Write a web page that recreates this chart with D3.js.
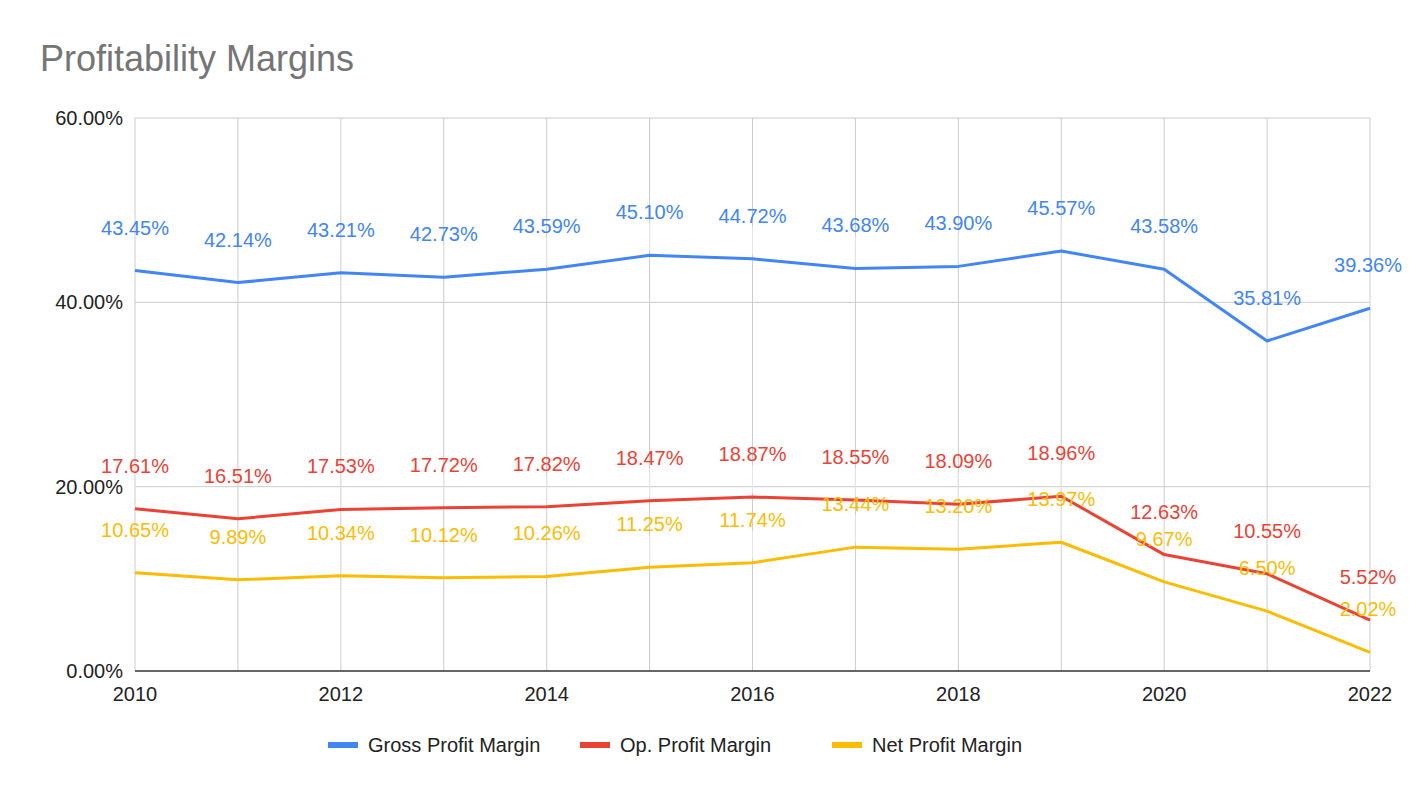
<!DOCTYPE html>
<html>
<head>
<meta charset="utf-8">
<script src="https://cdn.jsdelivr.net/npm/d3@7"></script>
<style>
  body { margin: 0; background: #fff; }
  text { font-family: "Liberation Sans", Arial, sans-serif; }
</style>
</head>
<body>
<svg id="chart" width="1410" height="798"></svg>
<script>
// chart data
var years = [2010, 2011, 2012, 2013, 2014, 2015, 2016, 2017, 2018, 2019, 2020, 2021, 2022];
var gross = [43.45, 42.14, 43.21, 42.73, 43.59, 45.10, 44.72, 43.68, 43.90, 45.57, 43.58, 35.81, 39.36];
var opMargin = [17.61, 16.51, 17.53, 17.72, 17.82, 18.47, 18.87, 18.55, 18.09, 18.96, 12.63, 10.55, 5.52];
var netMargin = [10.65, 9.89, 10.34, 10.12, 10.26, 11.25, 11.74, 13.44, 13.20, 13.97, 9.67, 6.50, 2.02];
var yTicks = [0, 20, 40, 60];
var xTicks = [2010, 2012, 2014, 2016, 2018, 2020, 2022];

var series = [
  { name: 'Gross Profit Margin', values: gross, color: '#4285F4' },
  { name: 'Op. Profit Margin', values: opMargin, color: '#EA4335' },
  { name: 'Net Profit Margin', values: netMargin, color: '#FBBC04' }
];

var svg = d3.select('#chart');
var x = d3.scaleLinear().domain([2010, 2022]).range([135, 1370]);
var y = d3.scaleLinear().domain([0, 60]).range([671, 118]);

// title
svg.append('text').attr('x', 40).attr('y', 71).attr('font-size', 36)
  .attr('fill', '#757575').text('Profitability Margins');

// grid lines, one vertical per year
svg.append('g').selectAll('line').data(years).join('line')
  .attr('x1', d => x(d)).attr('x2', d => x(d))
  .attr('y1', y(60)).attr('y2', y(0))
  .attr('stroke', '#cccccc').attr('stroke-width', 1);
svg.append('g').selectAll('line').data(yTicks).join('line')
  .attr('x1', x(2010)).attr('x2', x(2022))
  .attr('y1', d => y(d)).attr('y2', d => y(d))
  .attr('stroke', d => d === 0 ? '#333' : '#cccccc').attr('stroke-width', d => d === 0 ? 1.5 : 1);

// axis labels
svg.append('g').selectAll('text').data(yTicks).join('text')
  .attr('x', 123).attr('y', d => y(d) + 7).attr('text-anchor', 'end')
  .attr('font-size', 20).attr('fill', '#222')
  .text(d => d.toFixed(2) + '%');
svg.append('g').selectAll('text').data(xTicks).join('text')
  .attr('x', d => x(d)).attr('y', 701).attr('text-anchor', 'middle')
  .attr('font-size', 20).attr('fill', '#222').text(d => d);

var line = d3.line().x((d, i) => x(years[i])).y(d => y(d));

series.forEach(function (s) {
  // leader lines from labels to points
  svg.append('g').selectAll('line').data(s.values).join('line')
    .attr('x1', (d, i) => x(years[i])).attr('x2', (d, i) => x(years[i]))
    .attr('y1', d => y(d) - 32).attr('y2', d => y(d) - 4)
    .attr('stroke', '#e6e6e6').attr('stroke-width', 1);
});

series.forEach(function (s) {
  svg.append('path').datum(s.values).attr('d', line)
    .attr('fill', 'none').attr('stroke', s.color).attr('stroke-width', 3)
    .attr('stroke-linejoin', 'round');
});

series.forEach(function (s) {
  svg.append('g').selectAll('text').data(s.values).join('text')
    .attr('x', (d, i) => x(years[i]) + (i === years.length - 1 ? -2 : 0))
    .attr('y', d => y(d) - 36).attr('text-anchor', 'middle')
    .attr('font-size', 20).attr('fill', s.color)
    .text(d => d.toFixed(2) + '%');
});

// legend
var legendX = [328, 580, 832];
var lg = svg.append('g').selectAll('g').data(series).join('g')
  .attr('transform', (d, i) => 'translate(' + legendX[i] + ',745)');
lg.append('line').attr('x1', 0).attr('x2', 30).attr('y1', 0).attr('y2', 0)
  .attr('stroke', d => d.color).attr('stroke-width', 6);
lg.append('text').attr('x', 40).attr('y', 7).attr('font-size', 20)
  .attr('fill', '#222').text(d => d.name);
</script>
</body>
</html>
